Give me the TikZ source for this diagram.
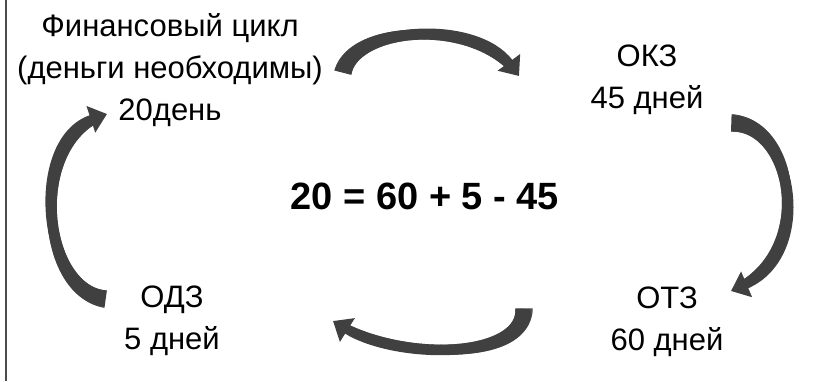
\documentclass[tikz,border=0pt]{standalone}
\usepackage{fontspec}
\setmainfont{Liberation Sans}
\usepackage{tikz}
\usetikzlibrary{arrows.meta,decorations.markings}
\definecolor{arrgray}{HTML}{404040}

\begin{document}
\begin{tikzpicture}[x=1pt,y=-1pt,
  cyc/.style={line width=8.5pt,arrgray,-{Triangle[width=27pt,length=17pt]},
    decoration={markings,
      mark=between positions 0 and -14pt step 0.8pt with {%
        \pgfmathsetmacro\rr{4.3+4.4*(1-\pgfkeysvalueof{/pgf/decoration/mark info/distance from start}/\pgfdecoratedpathlength)^3}%
        \fill[arrgray] (-0.7pt,-\rr pt) rectangle (0.7pt,\rr pt);}},
    postaction={decorate}},
  lbl/.style={align=center,inner sep=0pt,font=\fontsize{31}{42}\selectfont}]
  \useasboundingbox (0,0) rectangle (836,381);
  \draw[line width=2pt,gray!60!black] (6,0) -- (6,381);

  % stages of the cycle
  \node[lbl] (fin) at (170,70) {Финансовый цикл\\(деньги необходимы)\\20день};
  \node[lbl] (okz) at (647,80) {ОКЗ\\45 дней};
  \node[lbl] (otz) at (667,322) {ОТЗ\\60 дней};
  \node[lbl] (odz) at (172,321) {ОДЗ\\5 дней};
  \node[inner sep=0pt,font=\fontsize{38}{40}\selectfont\bfseries] (eq) at (425,196) {20 = 60 + 5 - 45};

  % arrow ends
  \coordinate (t1) at (343,72);  \coordinate (h1) at (519,76);
  \coordinate (t2) at (732,123); \coordinate (h2) at (731,291);
  \coordinate (t3) at (524,309); \coordinate (h3) at (333,321);
  \coordinate (t4) at (105,299); \coordinate (h4) at (107,114);

  \draw[cyc] (t1) .. controls (355,25) and (476,18) .. (h1);
  \draw[cyc] (t2) .. controls (795,125) and (815,255) .. (h2);
  \draw[cyc] (t3) .. controls (524,362) and (395,360) .. (h3);
  \draw[cyc] (t4) .. controls (40,290) and (28,140) .. (h4);
\end{tikzpicture}
\end{document}
